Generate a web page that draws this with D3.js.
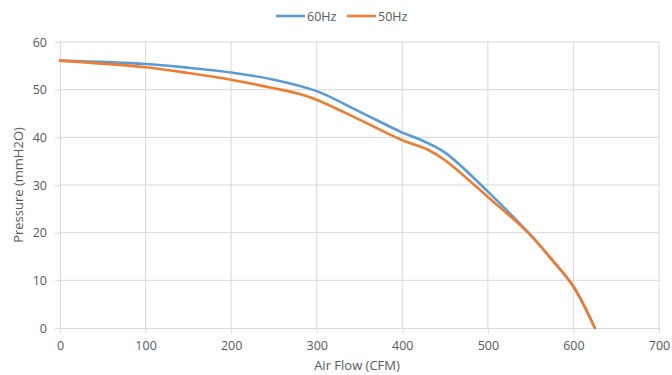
<!DOCTYPE html>
<html><head><meta charset="utf-8">
<script src="https://cdn.jsdelivr.net/npm/d3@7"></script>
<style>body{margin:0;background:#fff;} text{font-family:"Open Sans",Lato,sans-serif;}</style>
</head><body>
<svg id="c" width="672" height="375"></svg>
<script>
const flow60 = [0, 100, 150, 200, 250, 300, 350, 400, 420, 450, 500, 550, 575, 600, 625];
const press60 = [56.1, 55.4, 54.6, 53.6, 52.1, 49.7, 45.4, 41.0, 39.6, 36.8, 28.6, 19.5, 14.3, 8.7, 0];
const flow50 = [0, 100, 150, 200, 250, 280, 300, 350, 400, 430, 450, 500, 550, 575, 600, 625];
const press50 = [56.1, 54.7, 53.5, 52.1, 50.3, 49.1, 47.9, 43.7, 39.4, 37.4, 35.2, 27.5, 19.5, 14.3, 8.7, 0];
const xTicks = [0, 100, 200, 300, 400, 500, 600, 700];
const yTicks = [0, 10, 20, 30, 40, 50, 60];
const seriesNames = ["60Hz", "50Hz"];
const colors = ["#5B9BD5", "#ED7D31"];

const svg = d3.select("#c");
const x = d3.scaleLinear().domain([0, 700]).range([60, 659]);
const y = d3.scaleLinear().domain([0, 60]).range([328, 42]);
const grid = "#d9d9d9", txt = "#595959";

// gridlines
svg.append("g").selectAll("line.v").data(xTicks.slice(1)).join("line")
  .attr("x1", d => x(d)).attr("x2", d => x(d)).attr("y1", y(60)).attr("y2", y(0))
  .attr("stroke", grid).attr("stroke-width", 1);
svg.append("g").selectAll("line.h").data(yTicks.slice(1)).join("line")
  .attr("x1", x(0)).attr("x2", x(700)).attr("y1", d => y(d)).attr("y2", d => y(d))
  .attr("stroke", grid).attr("stroke-width", 1);

// axes
const xAxis = svg.append("g").attr("transform", `translate(0,${y(0)})`)
  .call(d3.axisBottom(x).tickValues(xTicks).tickSize(5).tickPadding(8));
const yAxis = svg.append("g").attr("transform", `translate(${x(0)},0)`)
  .call(d3.axisLeft(y).tickValues(yTicks).tickSize(5).tickPadding(8));
[xAxis, yAxis].forEach(a => {
  a.selectAll("path,line").attr("stroke", grid);
  a.selectAll("text").attr("fill", txt).style("font-size", "12.5px").style("font-family", "'Open Sans',Lato,sans-serif");
});

// lines
const line = d3.line().x(d => x(d[0])).y(d => y(d[1])).curve(d3.curveCatmullRom.alpha(0.5));
const data = [d3.zip(flow60, press60), d3.zip(flow50, press50)];
data.forEach((d, i) => {
  svg.append("path").datum(d).attr("d", line).attr("fill", "none")
    .attr("stroke", colors[i]).attr("stroke-width", 2.6).attr("stroke-linejoin", "round").attr("stroke-linecap", "round");
});

// axis titles
svg.append("text").attr("x", 357).attr("y", 370).attr("text-anchor", "middle")
  .attr("fill", txt).style("font-size", "13px").text("Air Flow (CFM)");
svg.append("text").attr("transform", "translate(23,185) rotate(-90)").attr("text-anchor", "middle")
  .attr("fill", txt).style("font-size", "13px").text("Pressure (mmH2O)");

// legend
const lg = [{x: 276, name: seriesNames[0], c: colors[0]}, {x: 347, name: seriesNames[1], c: colors[1]}];
lg.forEach(l => {
  svg.append("line").attr("x1", l.x).attr("x2", l.x + 29).attr("y1", 16).attr("y2", 16)
    .attr("stroke", l.c).attr("stroke-width", 2.6);
  svg.append("text").attr("x", l.x + 31).attr("y", 20.5).attr("fill", txt)
    .style("font-size", "12.5px").text(l.name);
});
</script>
</body></html>
